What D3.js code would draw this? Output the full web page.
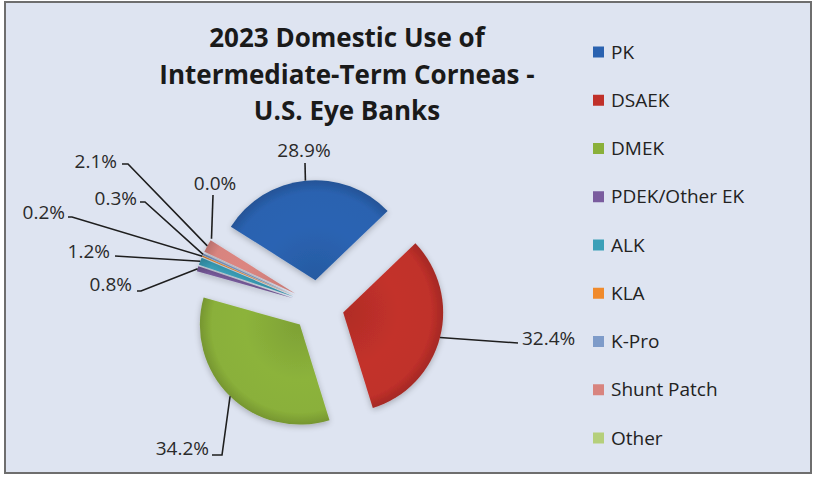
<!DOCTYPE html>
<html>
<head>
<meta charset="utf-8">
<script src="https://cdn.jsdelivr.net/npm/d3@7"></script>
<style>
  html, body { margin: 0; padding: 0; background: #ffffff; }
  svg { display: block; }
  text { font-family: "Open Sans", "DejaVu Sans", sans-serif; }
</style>
</head>
<body>
<svg id="chart" width="819" height="477"></svg>
<script>
// ---- data ----
const categories = ["PK", "DSAEK", "DMEK", "PDEK/Other EK", "ALK", "KLA", "K-Pro", "Shunt Patch", "Other"];
const values = [28.9, 32.4, 34.2, 0.8, 1.2, 0.2, 0.3, 2.1, 0.0];
const labels = ["28.9%", "32.4%", "34.2%", "0.8%", "1.2%", "0.2%", "0.3%", "2.1%", "0.0%"];
const titleLines = ["2023 Domestic Use of", "Intermediate-Term Corneas -", "U.S. Eye Banks"];

// ---- styles / layout ----
const colors = ["#2A62B0", "#C0302A", "#8AB03A", "#7A5C9E", "#3A9FB8", "#F08A2C", "#7E9BC9", "#D8847F", "#B5CF7B"];
const W = 819, H = 477;
const cx = 318, cy = 306, R = 100, explode = 26;
const startDeg = -57.7;
// label layout: text anchor point [x, y(center)], text-anchor, and leader start points
const labelLayout = [
  { x: 304, y: 150, anchor: "middle", path: [[305, 163]] },
  { x: 522, y: 338, anchor: "start",  path: [[518, 343]] },
  { x: 209, y: 448, anchor: "end",    path: [[212, 455], [222, 455]] },
  { x: 132, y: 284, anchor: "end",    path: [[137, 291], [141, 291]] },
  { x: 110, y: 251, anchor: "end",    path: [[115, 256]] },
  { x: 65,  y: 212, anchor: "end",    path: [[68, 217], [72, 217]] },
  { x: 137, y: 198, anchor: "end",    path: [[140, 202], [145, 202]] },
  { x: 117, y: 161, anchor: "end",    path: [[122, 164], [128, 164]] },
  { x: 215, y: 183, anchor: "middle", path: [[213, 195]] }
];

const svg = d3.select("#chart");
const defs = svg.append("defs");

// background + frame
svg.append("rect").attr("x", 5).attr("y", 2).attr("width", 806).attr("height", 471)
  .attr("fill", "#DEE4F1").attr("stroke", "#6E6E6E").attr("stroke-width", 2);

// soft shadow filter
const f = defs.append("filter").attr("id", "soft").attr("x", "-20%").attr("y", "-20%").attr("width", "140%").attr("height", "140%");
f.append("feGaussianBlur").attr("in", "SourceAlpha").attr("stdDeviation", 3).attr("result", "b");
f.append("feOffset").attr("in", "b").attr("dx", 0).attr("dy", 2).attr("result", "o");
f.append("feComponentTransfer").attr("in", "o").attr("result", "s")
  .append("feFuncA").attr("type", "linear").attr("slope", 0.25);
const m = f.append("feMerge");
m.append("feMergeNode").attr("in", "s");
m.append("feMergeNode").attr("in", "SourceGraphic");

// gradients per slice
colors.forEach((c, i) => {
  const g = defs.append("radialGradient").attr("id", "g" + i)
    .attr("gradientUnits", "userSpaceOnUse").attr("cx", 0).attr("cy", 0).attr("r", R);
  const base = d3.color(c);
  g.append("stop").attr("offset", "0%").attr("stop-color", base.darker(0.25));
  g.append("stop").attr("offset", "55%").attr("stop-color", base.brighter(0.05));
  g.append("stop").attr("offset", "88%").attr("stop-color", base);
  g.append("stop").attr("offset", "100%").attr("stop-color", base.darker(0.45));
});

// title
const title = svg.append("g");
const titleY = [47, 84, 120];
titleLines.forEach((t, i) => {
  title.append("text").attr("x", 347).attr("y", titleY[i])
    .attr("text-anchor", "middle").attr("font-size", 26).attr("font-weight", "bold")
    .attr("fill", "#1A1A1A").text(t);
});

// pie
const data = categories.map((c, i) => ({ name: c, value: values[i], i }));
const pie = d3.pie().value(d => d.value).sort(null)
  .startAngle(startDeg * Math.PI / 180).endAngle(startDeg * Math.PI / 180 + 2 * Math.PI);
const arcs = pie(data);
const arc = d3.arc().innerRadius(0).outerRadius(R);

const pieG = svg.append("g").attr("transform", `translate(${cx},${cy})`);
pieG.selectAll("path").data(arcs).join("path")
  .attr("transform", d => {
    const a = (d.startAngle + d.endAngle) / 2;
    return `translate(${Math.sin(a) * explode},${-Math.cos(a) * explode})`;
  })
  .attr("d", arc)
  .attr("fill", d => `url(#g${d.data.i})`)
  .attr("filter", "url(#soft)");

// leader lines + labels
const lab = svg.append("g");
arcs.forEach((d, i) => {
  const a = (d.startAngle + d.endAngle) / 2;
  const px = cx + Math.sin(a) * (R + explode);
  const py = cy - Math.cos(a) * (R + explode);
  const L = labelLayout[i];
  const pts = L.path.concat([[px, py]]);
  lab.append("path").attr("d", d3.line()(pts))
    .attr("fill", "none").attr("stroke", "#1E1E1E").attr("stroke-width", 1.6);
  lab.append("text").attr("x", L.x).attr("y", L.y).attr("dy", "0.35em")
    .attr("text-anchor", L.anchor).attr("font-size", 19).attr("fill", "#2A2A2A")
    .text(labels[i]);
});

// legend
const ly = d3.scalePoint().domain(categories).range([52, 438]);
const leg = svg.append("g");
categories.forEach((c, i) => {
  leg.append("rect").attr("x", 593).attr("y", ly(c) - 5.5).attr("width", 11).attr("height", 11)
    .attr("fill", colors[i]);
  leg.append("text").attr("x", 611).attr("y", ly(c)).attr("dy", "0.35em")
    .attr("font-size", 19).attr("fill", "#222").text(c);
});
</script>
</body>
</html>
